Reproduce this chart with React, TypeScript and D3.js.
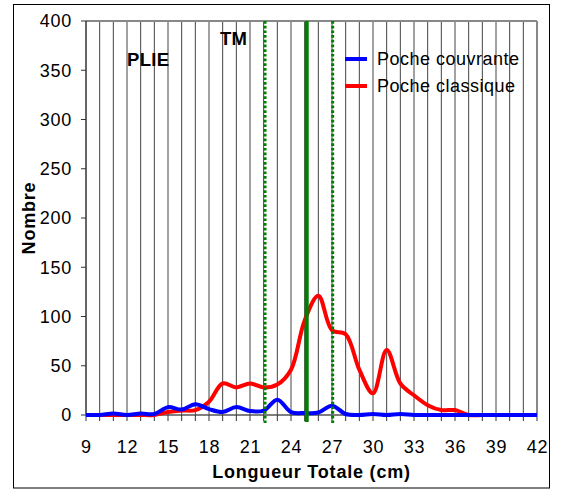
import React from "react";
import * as d3 from "d3";

const lengths = d3.range(9, 43);
const pocheCouvrante = [0, 0, 1.5, 0, 1.5, 1, 8, 5.5, 11, 6, 3, 8, 4, 4.5, 15.5, 3, 2, 2.5, 9.5, 1, 0, 1, 0, 1, 0, 0, 0, 0, 0, 0, 0, 0, 0, 0];
const pocheClassique = [0, 0, 0, 0, 0, 0, 3, 4.5, 5, 13.5, 32, 28, 32, 28, 31, 46, 96, 121, 86, 82, 46, 22, 66, 32, 20, 10, 5, 5, 0, 0, 0, 0, 0, 0];
const yTicks = [0, 50, 100, 150, 200, 250, 300, 350, 400];
const xTickLabels = [9, 12, 15, 18, 21, 24, 27, 30, 33, 36, 39, 42];
const tmLine = 25.15;
const tmDotted = [22.1, 27.05];
const seriesNames = ["Poche couvrante", "Poche classique"];
const seriesColors = ["#0000ff", "#ff0000"];

export default function App() {
  const W = 561, H = 489;
  const x = d3.scaleLinear().domain([9, 42]).range([86, 537]);
  const y = d3.scaleLinear().domain([0, 400]).range([415, 21]);
  const line = d3
    .line<number>()
    .x((_, i) => x(lengths[i]))
    .y((d) => y(d))
    .curve(d3.curveCatmullRom.alpha(0.5));
  const font = "Liberation Sans, Arial, sans-serif";
  const grid = d3.range(10, 42);
  return (
    <svg width={W} height={H} style={{ position: "absolute", left: 0, top: 0, background: "#fff" }} fontFamily={font}>
      <rect x={0} y={0} width={W} height={H} fill="#fff" />
      <rect x={13.5} y={4.5} width={536} height={483.5} fill="none" stroke="#000" strokeWidth={1} />
      {grid.map((g) => (
        <line key={g} x1={x(g)} x2={x(g)} y1={y(400)} y2={y(0)} stroke="#444" strokeWidth={1} />
      ))}
      <line x1={x(9)} x2={x(42)} y1={y(400)} y2={y(400)} stroke="#888" strokeWidth={2} />
      <line x1={x(42)} x2={x(42)} y1={y(400)} y2={y(0)} stroke="#888" strokeWidth={2} />
      {/* y axis */}
      <line x1={x(9)} x2={x(9)} y1={y(400)} y2={y(0)} stroke="#333" strokeWidth={1.5} />
      {yTicks.map((t) => (
        <g key={t}>
          <line x1={x(9) - 5} x2={x(9)} y1={y(t)} y2={y(t)} stroke="#333" strokeWidth={1} />
          <text x={72} y={y(t)} dy="0.35em" textAnchor="end" fontSize={18} letterSpacing={0.7}>
            {t}
          </text>
        </g>
      ))}
      {/* x axis */}
      <line x1={x(9)} x2={x(42)} y1={y(0)} y2={y(0)} stroke="#555" strokeWidth={1.5} />
      {lengths.map((l) => (
        <line key={l} x1={x(l)} x2={x(l)} y1={y(0)} y2={y(0) + 6} stroke="#333" strokeWidth={1} />
      ))}
      {xTickLabels.map((t) => (
        <text key={t} x={x(t) + 0.4} y={453} textAnchor="middle" fontSize={18} letterSpacing={0.7}>
          {t}
        </text>
      ))}
      {/* series */}
      <path d={line(pocheClassique) || ""} fill="none" stroke={seriesColors[1]} strokeWidth={4} strokeLinejoin="round" />
      <path d={line(pocheCouvrante) || ""} fill="none" stroke={seriesColors[0]} strokeWidth={4} strokeLinejoin="round" />
      {/* TM lines */}
      {tmDotted.map((v) => (
        <line key={v} x1={x(v)} x2={x(v)} y1={y(400)} y2={y(0) + 8} stroke="#008000" strokeWidth={3} strokeDasharray="2.7,2" />
      ))}
      <line x1={x(tmLine)} x2={x(tmLine)} y1={y(400)} y2={y(0) + 7} stroke="#008000" strokeWidth={4} />
      {/* labels */}
      <text x={127} y={66} fontSize={18.5} fontWeight="bold" letterSpacing={0.3}>PLIE</text>
      <text x={220} y={45} fontSize={18.5} fontWeight="bold" letterSpacing={0.3}>TM</text>
      {/* legend */}
      {seriesNames.map((n, i) => (
        <g key={n}>
          <line x1={345} x2={367} y1={59 + i * 27} y2={59 + i * 27} stroke={seriesColors[i]} strokeWidth={4} />
          <text x={377} y={59 + i * 27} dy="0.35em" fontSize={18} letterSpacing={0.5}>
            {n}
          </text>
        </g>
      ))}
      {/* axis titles */}
      <text x={x(25.5)} y={478} textAnchor="middle" fontSize={18} fontWeight="bold" letterSpacing={0.8}>
        Longueur Totale (cm)
      </text>
      <text transform={`translate(35,218) rotate(-90)`} textAnchor="middle" fontSize={18} fontWeight="bold" letterSpacing={0.8}>
        Nombre
      </text>
    </svg>
  );
}
